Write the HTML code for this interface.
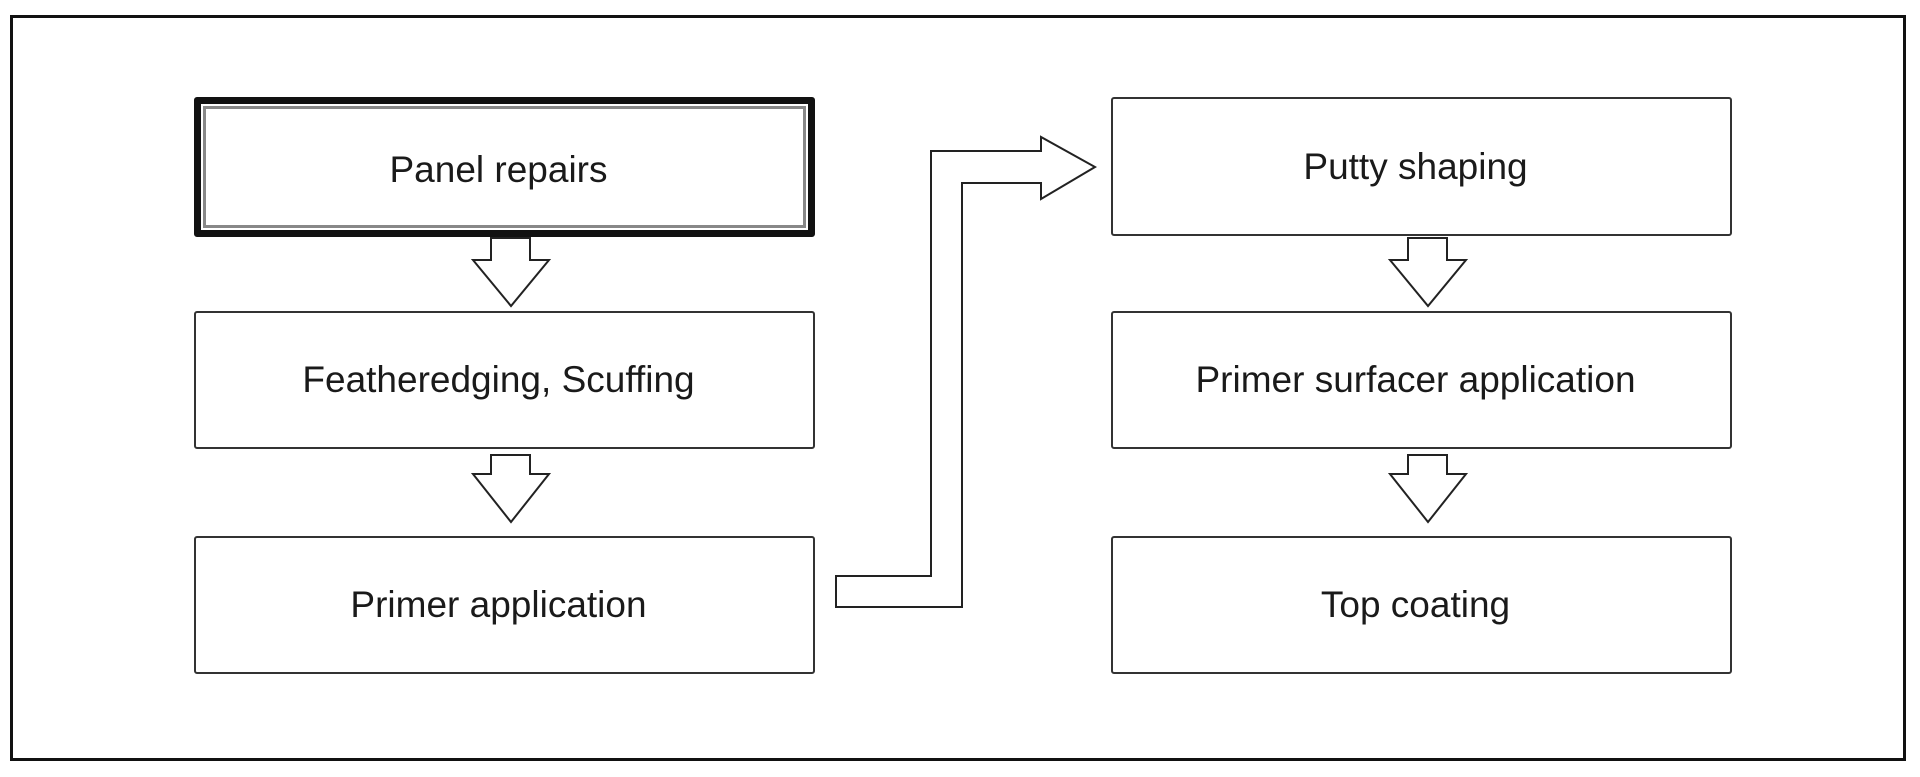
<!DOCTYPE html>
<html><head><style>
html,body{margin:0;padding:0;background:#fff;}
body{width:1920px;height:777px;position:relative;overflow:hidden;font-family:"Liberation Sans",Arial,sans-serif;}
.frame{position:absolute;left:10px;top:15px;width:1890px;height:740px;border:3px solid #111;}
.box{position:absolute;border:2px solid #333;border-radius:3px;display:flex;align-items:center;justify-content:center;font-size:37px;color:#1a1a1a;box-sizing:border-box;background:#fff;padding-right:12px;}
.thick{border:7px solid #111;padding-top:6px;}
.thick::after{content:"";position:absolute;left:2px;top:2px;right:2px;bottom:2px;border:3px solid #888;}
</style></head><body>
<div class="frame"></div>
<div class="box thick" style="left:194px;top:97px;width:621px;height:140px;">Panel repairs</div>
<div class="box" style="left:194px;top:311px;width:621px;height:138px;">Featheredging, Scuffing</div>
<div class="box" style="left:194px;top:536px;width:621px;height:138px;">Primer application</div>
<div class="box" style="left:1111px;top:97px;width:621px;height:139px;">Putty shaping</div>
<div class="box" style="left:1111px;top:311px;width:621px;height:138px;">Primer surfacer application</div>
<div class="box" style="left:1111px;top:536px;width:621px;height:138px;">Top coating</div>
<svg width="1920" height="777" style="position:absolute;left:0;top:0" fill="#fff" stroke="#222" stroke-width="2">
<polygon points="491,238 530,238 530,260 549,260 511,306 473,260 491,260"/>
<polygon points="491,455 530,455 530,474 549,474 511,522 473,474 491,474"/>
<polygon points="1408,238 1447,238 1447,260 1466,260 1428,306 1390,260 1408,260"/>
<polygon points="1408,455 1447,455 1447,474 1466,474 1428,522 1390,474 1408,474"/>
<polygon points="836,576 931,576 931,151 1041,151 1041,137 1095,167 1041,199 1041,183 962,183 962,607 836,607"/>
</svg>
</body></html>
